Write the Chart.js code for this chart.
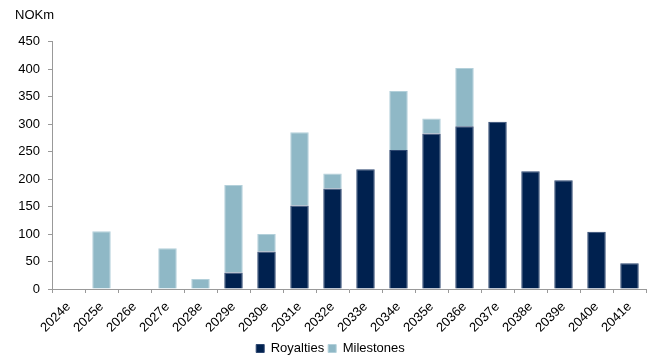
<!DOCTYPE html>
<html>
<head>
<meta charset="utf-8">
<script src="https://cdn.jsdelivr.net/npm/chart.js@4"></script>
<style>
  body { margin: 0; background: #fff; }
</style>
</head>
<body>
<canvas id="myChart" width="654" height="360"></canvas>
<script>
// years on the x axis
var years = ['2024e', '2025e', '2026e', '2027e', '2028e', '2029e', '2030e', '2031e', '2032e',
             '2033e', '2034e', '2035e', '2036e', '2037e', '2038e', '2039e', '2040e', '2041e'];
// NOKm values
var royalties  = [0, 0, 0, 0, 0, 30, 68, 152, 183, 218, 253, 283, 296, 304, 214, 198, 104, 47];
var milestones = [0, 105, 0, 74, 18, 159, 32, 133, 27, 0, 107, 27, 106, 0, 0, 0, 0, 0];
var yTicks = [0, 50, 100, 150, 200, 250, 300, 350, 400, 450];

Chart.defaults.font.family = '"Liberation Sans", Arial, sans-serif';
Chart.defaults.font.size = 13;
Chart.defaults.color = '#000';

var chartDisplay = document.getElementById('myChart');
var myChart = new Chart(chartDisplay, {
    type: 'bar',
    data: {
        labels: years,
        datasets: [
            {
                label: 'Royalties',
                data: royalties,
                backgroundColor: '#00214f',
                borderColor: '#2c4670',
                borderWidth: 1,
                barPercentage: 0.56,
                categoryPercentage: 1
            },
            {
                label: 'Milestones',
                data: milestones,
                backgroundColor: '#8fb8c6',
                borderColor: '#b3d0da',
                borderWidth: 1,
                barPercentage: 0.56,
                categoryPercentage: 1
            }
        ]
    },
    options: {
        responsive: false,
        animation: false,
        layout: { padding: { left: 15, right: 8, top: 4, bottom: -5 } },
        plugins: {
            title: {
                display: true,
                text: 'NOKm',
                align: 'start',
                font: { size: 13, weight: 'normal' },
                padding: { top: 4, bottom: 18 }
            },
            legend: {
                position: 'bottom',
                labels: { boxWidth: 8, boxHeight: 8, padding: 4, font: { size: 13 } }
            },
            tooltip: { enabled: false }
        },
        scales: {
            x: {
                stacked: true,
                offset: true,
                grid: { display: true, drawOnChartArea: false, offset: true, tickLength: 4, color: '#999' },
                border: { color: '#999' },
                ticks: { minRotation: 45, maxRotation: 45, padding: 6 },
                // rotated labels hang from the bottom of the axis box
                afterFit: function (scale) { scale.height = 49; }
            },
            y: {
                stacked: true,
                min: 0,
                max: 450,
                afterBuildTicks: function (scale) {
                    scale.ticks = yTicks.map(function (v) { return { value: v }; });
                },
                afterFit: function (scale) { scale.width = 37; },
                grid: { display: true, drawOnChartArea: false, tickLength: 4, color: '#999' },
                border: { color: '#999' },
                ticks: { padding: 8 }
            }
        }
    }
});
</script>
</body>
</html>
